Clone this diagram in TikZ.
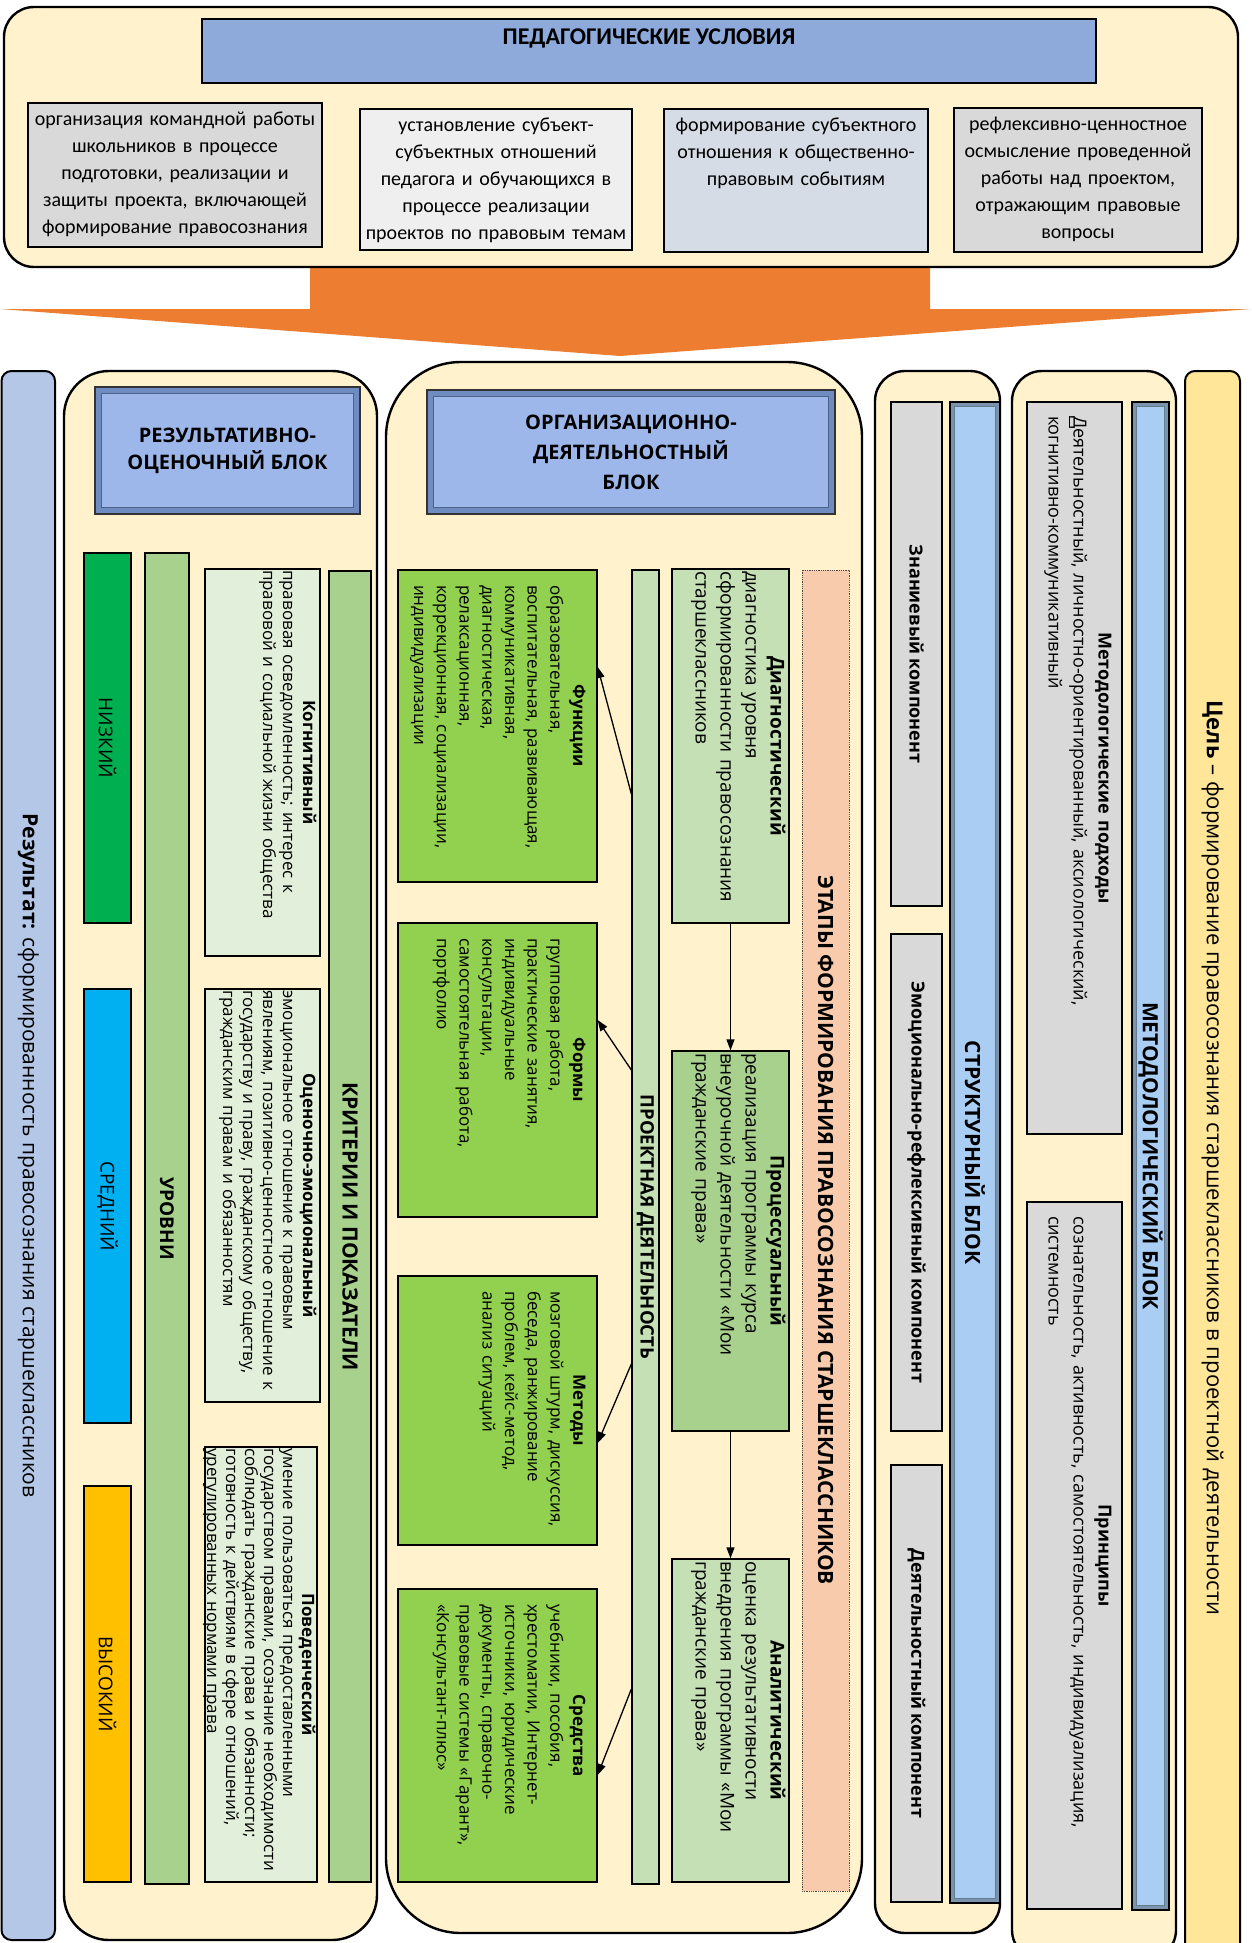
\documentclass[tikz,border=0pt]{standalone}
\usepackage{fontspec}
\setmainfont{Open Sans}
\newfontfamily\calibri{Carlito}
\usetikzlibrary{positioning,fit,calc,arrows.meta}

\definecolor{cream}{HTML}{FFF2CC}
\definecolor{titleblue}{HTML}{8EAADB}
\definecolor{faceblue}{HTML}{9DB7EB}
\definecolor{frameblue}{HTML}{6F8CC2}
\definecolor{colblue}{HTML}{A9CDF3}
\definecolor{colframe}{HTML}{7C93AE}
\definecolor{grayA}{HTML}{D9D9D9}
\definecolor{grayB}{HTML}{EFEFEF}
\definecolor{grayC}{HTML}{D6DCE5}
\definecolor{lowgreen}{HTML}{00B050}
\definecolor{midblue}{HTML}{00B0F0}
\definecolor{highgold}{HTML}{FFC000}
\definecolor{sage}{HTML}{A9D18E}
\definecolor{palesage}{HTML}{E2EFDA}
\definecolor{leaf}{HTML}{92D050}
\definecolor{mint}{HTML}{C5E0B4}
\definecolor{salmon}{HTML}{F8CBAD}
\definecolor{resblue}{HTML}{B4C7E7}
\definecolor{goalgold}{HTML}{FFE699}
\definecolor{arroworange}{HTML}{ED7D31}

% centred bold heading line over a left-aligned body
\newcommand{\vhead}[1]{\noindent\hbox to\hsize{\hss\textbf{#1}\hss}\par\noindent}

\begin{document}
\begin{tikzpicture}[x=1pt,y=-1pt,>={Triangle[length=11pt,width=8pt]},
  block/.style={draw=black,line width=2.4pt,fill=cream,inner sep=0pt},
  box/.style={draw=black,line width=1.3pt,inner sep=0pt},
  title frame/.style={draw=black!80,line width=1.2pt,fill=frameblue,inner sep=0pt},
  title face/.style={fill=faceblue,draw=frameblue!70!black,line width=0.6pt},
  col frame/.style={draw=black,line width=1.3pt,fill=colframe,inner sep=0pt},
  col face/.style={fill=colblue,draw=colblue!60!black,line width=0.6pt},
  top text/.style={anchor=north,inner xsep=0pt,inner ysep=9pt,align=center,font=\calibri\fontsize{20}{27}\selectfont},
  vlabel/.style={rotate=-90,inner sep=0pt,font=\fontsize{19}{23}\selectfont},
  crit text/.style={rotate=-90,anchor=north,inner xsep=1pt,inner ysep=4pt,align=left,font=\fontsize{17}{20}\selectfont},
  means text/.style={rotate=-90,anchor=north,inner xsep=15pt,inner ysep=12pt,align=left,font=\fontsize{17}{22.7}\selectfont},
  stage text/.style={rotate=-90,anchor=north,inner xsep=2pt,inner ysep=4pt,align=left,font=\fontsize{19}{25}\selectfont},
  meth text/.style={rotate=-90,anchor=north,inner xsep=14pt,inner ysep=11pt,align=left,font=\fontsize{18}{25}\selectfont},
  link/.style={->,line width=1.3pt}]
\useasboundingbox (0,0) rectangle (1251,1943);

% big arrow
\fill[arroworange] (310,255) -- (930,255) -- (930,309) -- (1251,309) -- (620,356) -- (0,309) -- (310,309) -- cycle;

% pedagogical conditions
\node[block,rounded corners=30pt,fit={(4,7) (1238,267)}] (ped) {};
\node[box,fill=titleblue,fit={(202,19) (1096,83)}] (pedtitle) {};
\node[anchor=north,inner sep=0pt,font=\calibri\bfseries\fontsize{24}{28}\selectfont] at ([yshift=-10pt]pedtitle.north) {ПЕДАГОГИЧЕСКИЕ УСЛОВИЯ};
\node[box,fill=grayA,fit={(28,103) (322,247)}] (cond1) {};
\node[top text,text width=294pt] at (cond1.north) {организация командной работы\\школьников в процессе\\подготовки, реализации и\\защиты проекта, включающей\\формирование правосознания};
\node[box,fill=grayB,fit={(360,109) (632,250)}] (cond2) {};
\node[top text,text width=272pt] at (cond2.north) {установление субъект-\\субъектных отношений\\педагога и обучающихся в\\процессе реализации\\проектов по правовым темам};
\node[box,fill=grayC,fit={(664,109) (928,252)}] (cond3) {};
\node[top text,text width=264pt] at (cond3.north) {формирование субъектного\\отношения к общественно-\\правовым событиям};
\node[box,fill=grayA,fit={(954,108) (1202,252)}] (cond4) {};
\node[top text,text width=248pt] at (cond4.north) {рефлексивно-ценностное\\осмысление проведенной\\работы над проектом,\\отражающим правовые\\вопросы};

% result
\node[draw=black,line width=2pt,rounded corners=10pt,fill=resblue,inner sep=0pt,fit={(1.5,371) (55,1940)}] (result) {};
\node[vlabel,font=\fontsize{21}{25}\selectfont] at (result.center) {\textbf{Результат:} сформированность правосознания старшеклассников};

% result-evaluation block
\node[block,rounded corners=45pt,fit={(64,371) (377,1940)}] (eval) {};
\node[title frame,fit={(95,387) (360,514)}] (evaltitle) {};
\draw[title face] ([shift={(7,7)}]evaltitle.north west) rectangle ([shift={(-7,-7)}]evaltitle.south east);
\node[align=center,font=\bfseries\fontsize{20}{27}\selectfont] at (evaltitle) {РЕЗУЛЬТАТИВНО-\\ОЦЕНОЧНЫЙ БЛОК};
\node[box,fill=lowgreen,fit={(84,553) (131,923)}] (low) {};
\node[vlabel] at (low) {НИЗКИЙ};
\node[box,fill=midblue,fit={(84,989) (131,1423)}] (mid) {};
\node[vlabel] at (mid) {СРЕДНИЙ};
\node[box,fill=highgold,fit={(84,1486) (131,1882)}] (high) {};
\node[vlabel] at (high) {ВЫСОКИЙ};
\node[box,fill=sage,fit={(145,553) (189,1884)}] (levels) {};
\node[vlabel,font=\bfseries\fontsize{19}{23}\selectfont] at (levels) {УРОВНИ};
\node[box,fill=palesage,fit={(205,569) (320,956)}] (cogn) {};
\node[crit text,text width=385pt] at (cogn.east) {\vhead{Когнитивный}правовая осведомленность; интерес к\\правовой и социальной жизни общества};
\node[box,fill=palesage,fit={(205,989) (320,1402)}] (emot) {};
\node[crit text,text width=411pt] at (emot.east) {\vhead{Оценочно-эмоциональный}эмоциональное отношение к правовым\\явлениям, позитивно-ценностное отношение к\\государству и праву, гражданскому обществу,\\гражданским правам и обязанностям};
\node[box,fill=palesage,fit={(205,1447) (317,1882)}] (behav) {};
\node[crit text,text width=433pt,font=\fontsize{17}{19}\selectfont,inner ysep=2pt] at (behav.east) {\vhead{Поведенческий}умение пользоваться предоставленными\\государством правами, осознание необходимости\\соблюдать гражданские права и обязанности;\\готовность к действиям в сфере отношений,\\урегулированных нормами права};
\node[box,fill=sage,fit={(329,571) (371,1882)}] (crit) {};
\node[vlabel,font=\bfseries\fontsize{21}{25}\selectfont] at (crit) {КРИТЕРИИ И ПОКАЗАТЕЛИ};

% organizational block
\node[block,rounded corners=75pt,fit={(386,362) (862,1933)}] (org) {};
\node[title frame,fit={(427,390) (835,514)}] (orgtitle) {};
\draw[title face] ([shift={(7,7)}]orgtitle.north west) rectangle ([shift={(-7,-7)}]orgtitle.south east);
\node[align=center,font=\bfseries\fontsize{20}{30}\selectfont] at (orgtitle) {ОРГАНИЗАЦИОННО-\\ДЕЯТЕЛЬНОСТНЫЙ\\БЛОК};
\node[box,fill=leaf,fit={(398,570) (597,882)}] (func) {};
\node[means text,text width=282pt] at (func.east) {\vhead{Функции}образовательная,\\воспитательная, развивающая,\\коммуникативная,\\диагностическая,\\релаксационная,\\коррекционная, социализации,\\индивидуализации};
\node[box,fill=leaf,fit={(398,923) (597,1217)}] (forms) {};
\node[means text,text width=264pt] at (forms.east) {\vhead{Формы}групповая работа,\\практические занятия,\\индивидуальные\\консультации,\\самостоятельная работа,\\портфолио};
\node[box,fill=leaf,fit={(398,1276) (597,1545)}] (meth) {};
\node[means text,text width=239pt] at (meth.east) {\vhead{Методы}мозговой штурм, дискуссия,\\беседа, ранжирование\\проблем, кейс-метод,\\анализ ситуаций};
\node[box,fill=leaf,fit={(398,1589) (597,1882)}] (tools) {};
\node[means text,text width=263pt] at (tools.east) {\vhead{Средства}учебники, пособия,\\хрестоматии, Интернет-\\источники, юридические\\документы, справочно-\\правовые системы «Гарант»,\\«Консультант-плюс»};
\node[box,fill=mint,fit={(632,570) (659,1884)}] (proj) {};
\node[vlabel,font=\bfseries\fontsize{18.5}{22}\selectfont] at (proj) {ПРОЕКТНАЯ ДЕЯТЕЛЬНОСТЬ};
\node[box,fill=mint,fit={(672,569) (789,923)}] (diag) {};
\node[stage text,text width=350pt] at (diag.east) {\vhead{Диагностический}диагностика уровня\\сформированности правосознания\\старшеклассников};
\node[box,fill=sage,fit={(672,1051) (789,1431)}] (proc) {};
\node[stage text,text width=376pt] at (proc.east) {\vhead{Процессуальный}реализация программы курса\\внеурочной деятельности «Мои\\гражданские права»};
\node[box,fill=mint,fit={(672,1559) (789,1882)}] (anal) {};
\node[stage text,text width=319pt] at (anal.east) {\vhead{Аналитический}оценка результативности\\внедрения программы «Мои\\гражданские права»};
\node[draw=black!70,densely dotted,line width=0.8pt,fill=salmon,inner sep=0pt,fit={(802,570) (849,1891)}] (stages) {};
\node[vlabel,font=\bfseries\fontsize{21}{25}\selectfont] at (stages) {ЭТАПЫ ФОРМИРОВАНИЯ ПРАВОСОЗНАНИЯ СТАРШЕКЛАССНИКОВ};

\draw[link] (diag) -- (proc);
\draw[link] (proc) -- (anal);
\draw[link] (proj.west |- 0,794) -- (func.east |- 0,667);
\draw[link] (proj.west |- 0,1070) -- (forms.east |- 0,1020);
\draw[link] (proj.west |- 0,1364) -- (meth.east |- 0,1443);
\draw[link] (proj.west |- 0,1689) -- (tools.east |- 0,1775);

% structural block
\node[block,rounded corners=30pt,fit={(875,371) (1000,1933)}] (struct) {};
\node[box,fill=grayA,fit={(891,402) (942,906)}] (know) {};
\node[vlabel,font=\bfseries\fontsize{18}{22}\selectfont] at (know) {Знаниевый компонент};
\node[box,fill=grayA,fit={(891,934) (942,1431)}] (refl) {};
\node[vlabel,font=\bfseries\fontsize{18}{22}\selectfont] at (refl) {Эмоционально-рефлексивный компонент};
\node[box,fill=grayA,fit={(891,1465) (942,1902)}] (act) {};
\node[vlabel,font=\bfseries\fontsize{18}{22}\selectfont] at (act) {Деятельностный компонент};
\node[col frame,fit={(950,402) (1000,1903)}] (structcol) {};
\draw[col face] ([shift={(5,5)}]structcol.north west) rectangle ([shift={(-5,-5)}]structcol.south east);
\node[vlabel,font=\bfseries\fontsize{21}{25}\selectfont] at (structcol) {СТРУКТУРНЫЙ БЛОК};

% methodological block
\node[block,rounded corners=30pt,fit={(1012,371) (1176,1960)}] (method) {};
\node[box,fill=grayA,fit={(1027,402) (1122,1134)}] (appr) {};
\node[meth text,text width=704pt] at (appr.east) {\vhead{Методологические подходы}\underline{Д}еятельностный, личностно-ориентированный, аксиологический,\\когнитивно-коммуникативный};
\node[box,fill=grayA,fit={(1027,1202) (1122,1909)}] (princ) {};
\node[meth text,text width=679pt] at (princ.east) {\vhead{Принципы}сознательность, активность, самостоятельность, индивидуализация,\\системность};
\node[col frame,fit={(1132,402) (1169,1910)}] (methcol) {};
\draw[col face] ([shift={(5,5)}]methcol.north west) rectangle ([shift={(-5,-5)}]methcol.south east);
\node[vlabel,font=\bfseries\fontsize{21}{25}\selectfont] at (methcol) {МЕТОДОЛОГИЧЕСКИЙ БЛОК};

% goal
\node[draw=black,line width=2pt,rounded corners=10pt,fill=goalgold,inner sep=0pt,fit={(1185,371) (1240,1960)}] (goal) {};
\node[vlabel,font=\fontsize{22}{26}\selectfont] at (1212.5,1158) (goaltext) {\textbf{Цель} – формирование правосознания старшеклассников в проектной деятельности};
\end{tikzpicture}
\end{document}
